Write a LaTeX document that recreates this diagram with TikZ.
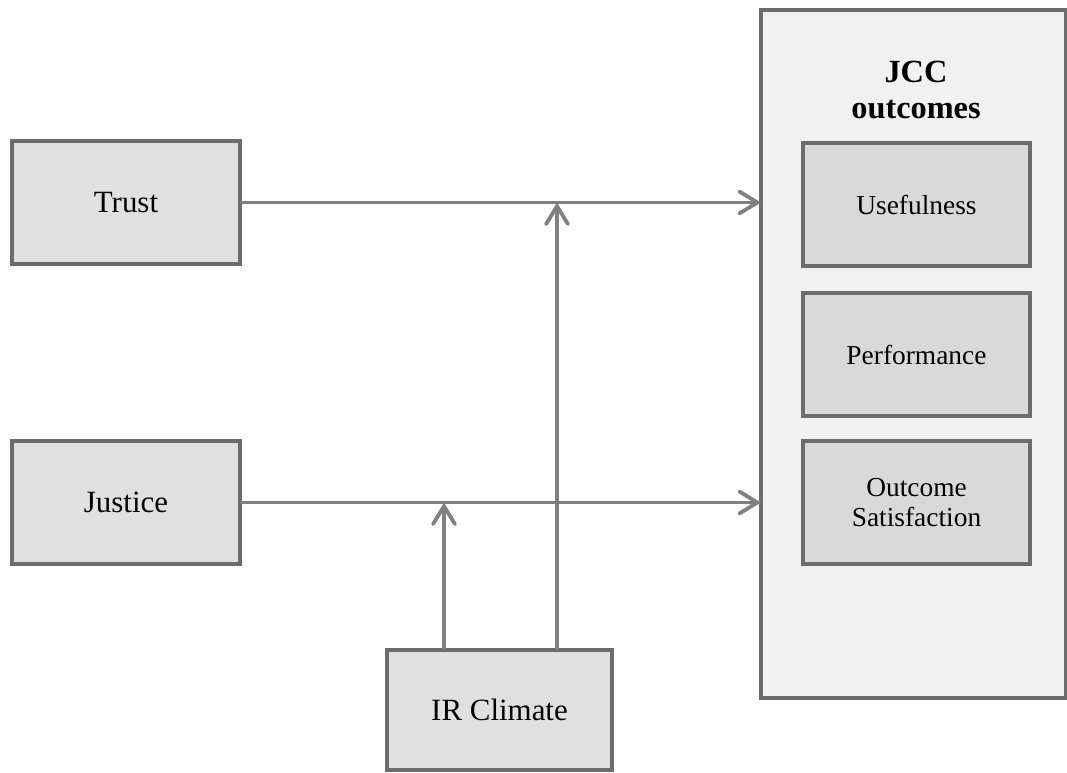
\documentclass[tikz,border=0pt]{standalone}
\usepackage{fontspec}
\setmainfont{Liberation Serif}
\usepackage{tikz}
\usetikzlibrary{arrows.meta}

\definecolor{boxfill}{RGB}{224,224,224}
\definecolor{subfill}{RGB}{217,217,217}
\definecolor{panelfill}{RGB}{241,241,241}
\definecolor{boxline}{RGB}{108,108,108}
\definecolor{arrowline}{RGB}{128,128,128}

\tikzset{
  factor/.style={draw=boxline, line width=2.4pt, fill=boxfill, outer sep=0pt,
    minimum width=5.7cm, minimum height=3.075cm, font=\fontsize{22}{26}\selectfont},
  outcome/.style={draw=boxline, line width=2.4pt, fill=subfill, outer sep=0pt, align=center,
    minimum width=5.675cm, minimum height=3.075cm, font=\fontsize{19.5}{21.5}\selectfont},
  panel/.style={draw=boxline, line width=2.4pt, fill=panelfill, outer sep=0pt,
    minimum width=7.625cm, minimum height=17.2cm},
  link/.style={draw=arrowline, line width=2.7pt,
    -{Straight Barb[length=4.5mm, width=5.5mm, line width=2.7pt, line cap=round]}}
}

\begin{document}
\begin{tikzpicture}
\useasboundingbox (0,0) rectangle (26.675,-19.3);

% outcome panel on the right
\node[panel] (jcc) at (22.8375,-8.85) {};
\node[align=center, font=\bfseries\fontsize{23}{25}\selectfont] (jcctitle) at (22.9,-2.25) {JCC\\outcomes};
\node[outcome] (useful) at (22.9125,-5.1125) {Usefulness};
\node[outcome] (perform) at (22.9125,-8.8625) {Performance};
\node[outcome] (satisf) at (22.9125,-12.5625) {Outcome\\Satisfaction};

% predictors and moderator
\node[factor] (trust) at (3.15,-5.0625) {Trust};
\node[factor] (justice) at (3.15,-12.5625) {Justice};
\node[factor, minimum width=5.625cm, minimum height=3cm] (climate) at (12.4875,-17.75) {IR Climate};

\coordinate (trustmod) at (13.925,-5.0625);
\coordinate (justmod) at (11.1,-12.5625);

\draw[link] (trust.east) -- (trust.east -| jcc.west);
\draw[link] (justice.east) -- (justice.east -| jcc.west);
\draw[link] (climate.north -| justmod) -- (justmod);
\draw[link] (climate.north -| trustmod) -- (trustmod);

\end{tikzpicture}
\end{document}
